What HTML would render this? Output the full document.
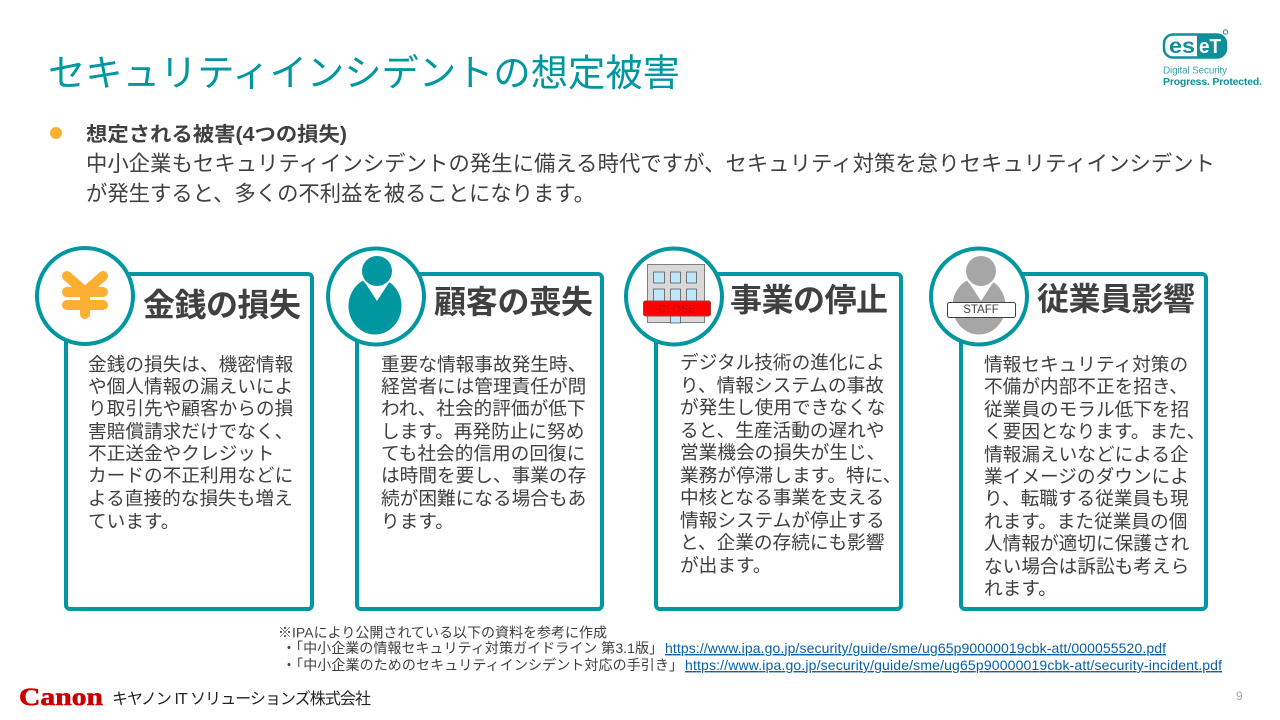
<!DOCTYPE html>
<html lang="ja">
<head>
<meta charset="utf-8">
<title>セキュリティインシデントの想定被害</title>
<style>
html,body{margin:0;padding:0;background:#fff;width:1280px;height:720px;overflow:hidden}
svg{display:block;position:absolute;left:0;top:0}
text{font-family:"Liberation Sans","Noto Sans CJK JP",sans-serif;fill:#404040}
.b{font-size:18.67px}
.t{font-size:32px;font-weight:700}
.f{font-size:14px}
.u{font-size:14px;fill:#0b5fa8;text-decoration:underline}
</style>
</head>
<body>
<svg width="1280" height="720" viewBox="0 0 1280 720" xmlns="http://www.w3.org/2000/svg">
<rect width="1280" height="720" fill="#fff"/>

<text x="48" y="86" font-size="37.33" style="fill:#0097a0" textLength="632">セキュリティインシデントの想定被害</text>

<!-- ESET logo -->
<rect x="1164" y="34.500" width="62" height="23" rx="9" fill="#fff" stroke="#0f8f99" stroke-width="2.500"/>
<path d="M1197 34.500h20a9 9 0 0 1 9 9v5a9 9 0 0 1-9 9h-20z" fill="#0f8f99"/>
<text x="1169" y="53" font-size="21" font-weight="700" textLength="26" lengthAdjust="spacingAndGlyphs" style="fill:#0f8f99">es</text>
<text x="1199" y="53" font-size="20" font-weight="700" textLength="22" lengthAdjust="spacingAndGlyphs" style="fill:#fff">eT</text>
<circle cx="1225.500" cy="32" r="2.200" fill="none" stroke="#0f8f99" stroke-width="1"/>
<text x="1163" y="73.500" font-size="10" style="fill:#3aa3ab" textLength="64">Digital Security</text>
<text x="1163" y="85" font-size="10.500" font-weight="700" style="fill:#0f8f99" textLength="99">Progress. Protected.</text>

<!-- intro -->
<circle cx="56" cy="133" r="6" fill="#fbb034"/>
<text x="86" y="141" font-size="20" font-weight="700" textLength="261" lengthAdjust="spacingAndGlyphs">想定される被害(4つの損失)</text>
<text x="86" y="171" font-size="21.33" textLength="1129">中小企業もセキュリティインシデントの発生に備える時代ですが、セキュリティ対策を怠りセキュリティインシデント</text>
<text x="86" y="201" font-size="21.33">が発生すると、多くの不利益を被ることになります。</text>

<!-- cards -->
<g fill="#fff" stroke="#0097a0" stroke-width="4">
<rect x="66" y="274" width="246" height="335" rx="4"/>
<rect x="357" y="274" width="245" height="335" rx="4"/>
<rect x="656" y="274" width="245" height="335" rx="4"/>
<rect x="961" y="274" width="245" height="335" rx="4"/>
<circle cx="85" cy="296" r="48"/>
<circle cx="376" cy="296.500" r="48"/>
<circle cx="674" cy="296.500" r="48"/>
<circle cx="979" cy="296.500" r="48"/>
</g>

<!-- yen -->
<g fill="none" stroke="#fbb034" stroke-width="10" stroke-linecap="round" stroke-linejoin="round">
<path d="M67 276L85 292L103 276"/>
<path d="M85 292V314"/>
<path d="M67 292H103"/>
<path d="M67 305H103"/>
</g>

<!-- person -->
<ellipse cx="375" cy="306" rx="26.500" ry="28.500" fill="#0097a0"/>
<path d="M364 281L377 301L390 281z" fill="#fff"/>
<circle cx="377" cy="271" r="17" fill="#fff"/>
<circle cx="377" cy="271" r="15" fill="#0097a0"/>

<!-- building -->
<rect x="647.500" y="264.500" width="57" height="58" fill="#d9d9d9" stroke="#7f7f7f"/>
<g fill="#bde8fb" stroke="#595959" stroke-width="0.8">
<rect x="653.500" y="272" width="11" height="11"/>
<rect x="670.500" y="272" width="10" height="11"/>
<rect x="686.500" y="272" width="10" height="11"/>
<rect x="653.500" y="289" width="11" height="12"/>
<rect x="670.500" y="289" width="10" height="12"/>
<rect x="686.500" y="289" width="10" height="12"/>
<rect x="670.500" y="315" width="10" height="8"/>
</g>
<rect x="643.500" y="301" width="67" height="15" rx="2" fill="#ff0000" stroke="#a33a3a"/>
<text x="677" y="312.500" font-size="11" text-anchor="middle" style="fill:#b00000">CLOSE</text>

<!-- staff -->
<ellipse cx="979" cy="306" rx="26.500" ry="28.500" fill="#a6a6a6"/>
<path d="M968 281L981 301L994 281z" fill="#fff"/>
<circle cx="981" cy="271" r="17" fill="#fff"/>
<circle cx="981" cy="271" r="15" fill="#a6a6a6"/>
<rect x="947.500" y="302.500" width="68" height="15" rx="2" fill="#fff" stroke="#404040"/>
<text x="981" y="313" font-size="11.500" text-anchor="middle">STAFF</text>

<!-- card titles -->
<text class="t" x="143" y="316" textLength="158">金銭の損失</text>
<text class="t" x="434" y="313" textLength="159">顧客の喪失</text>
<text class="t" x="730" y="311" textLength="158">事業の停止</text>
<text class="t" x="1037" y="310" textLength="158">従業員影響</text>

<!-- card 1 -->
<text class="b" x="88" y="371">金銭の損失は、機密情報</text>
<text class="b" x="88" y="393">や個人情報の漏えいによ</text>
<text class="b" x="88" y="415">り取引先や顧客からの損</text>
<text class="b" x="88" y="438">害賠償請求だけでなく、</text>
<text class="b" x="88" y="460">不正送金やクレジット</text>
<text class="b" x="88" y="482">カードの不正利用などに</text>
<text class="b" x="88" y="505">よる直接的な損失も増え</text>
<text class="b" x="88" y="528">ています。</text>

<!-- card 2 -->
<text class="b" x="381" y="371">重要な情報事故発生時、</text>
<text class="b" x="381" y="393">経営者には管理責任が問</text>
<text class="b" x="381" y="415">われ、社会的評価が低下</text>
<text class="b" x="381" y="438">します。再発防止に努め</text>
<text class="b" x="381" y="460">ても社会的信用の回復に</text>
<text class="b" x="381" y="482">は時間を要し、事業の存</text>
<text class="b" x="381" y="505">続が困難になる場合もあ</text>
<text class="b" x="381" y="528">ります。</text>

<!-- card 3 -->
<text class="b" x="680" y="369">デジタル技術の進化によ</text>
<text class="b" x="680" y="392">り、情報システムの事故</text>
<text class="b" x="680" y="414">が発生し使用できなくな</text>
<text class="b" x="680" y="437">ると、生産活動の遅れや</text>
<text class="b" x="680" y="459">営業機会の損失が生じ、</text>
<text class="b" x="680" y="482">業務が停滞します。特に、</text>
<text class="b" x="680" y="504">中核となる事業を支える</text>
<text class="b" x="680" y="527">情報システムが停止する</text>
<text class="b" x="680" y="549">と、企業の存続にも影響</text>
<text class="b" x="680" y="572">が出ます。</text>

<!-- card 4 -->
<text class="b" x="984" y="371">情報セキュリティ対策の</text>
<text class="b" x="984" y="393">不備が内部不正を招き、</text>
<text class="b" x="984" y="416">従業員のモラル低下を招</text>
<text class="b" x="984" y="438">く要因となります。また、</text>
<text class="b" x="984" y="461">情報漏えいなどによる企</text>
<text class="b" x="984" y="483">業イメージのダウンによ</text>
<text class="b" x="984" y="505">り、転職する従業員も現</text>
<text class="b" x="984" y="528">れます。また従業員の個</text>
<text class="b" x="984" y="550">人情報が適切に保護され</text>
<text class="b" x="984" y="573">ない場合は訴訟も考えら</text>
<text class="b" x="984" y="595">れます。</text>

<!-- footnotes -->
<text class="f" x="278" y="637.500" textLength="329">※IPAにより公開されている以下の資料を参考に作成</text>
<text class="f" x="282" y="653" textLength="381">・「中小企業の情報セキュリティ対策ガイドライン 第3.1版」</text>
<text class="u" x="665" y="653" textLength="501">https://www.ipa.go.jp/security/guide/sme/ug65p90000019cbk-att/000055520.pdf</text>
<text class="f" x="282" y="670" textLength="401">・「中小企業のためのセキュリティインシデント対応の手引き」</text>
<text class="u" x="685" y="670" textLength="537">https://www.ipa.go.jp/security/guide/sme/ug65p90000019cbk-att/security-incident.pdf</text>

<!-- footer -->
<text x="19" y="705" font-size="25" font-weight="700" textLength="84" lengthAdjust="spacingAndGlyphs" style="font-family:'Liberation Serif',serif;fill:#cc0000;stroke:#cc0000;stroke-width:0.6">Canon</text>
<text x="112" y="704" font-size="16" textLength="259" style="fill:#222">キヤノン IT ソリューションズ株式会社</text>
<text x="1236" y="700" font-size="12" style="fill:#a6a6a6">9</text>
</svg>
</body>
</html>
